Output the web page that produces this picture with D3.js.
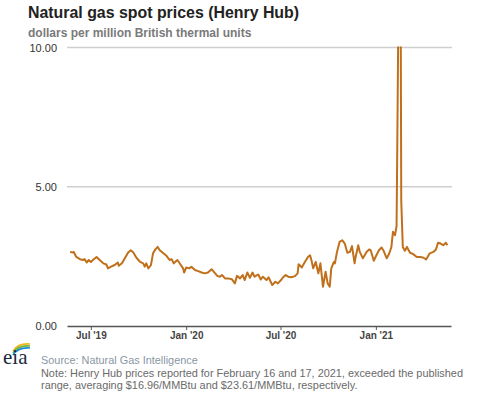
<!DOCTYPE html>
<html>
<head>
<meta charset="utf-8">
<script src="https://cdn.jsdelivr.net/npm/d3@7"></script>
<style>
  body { margin: 0; background: #fff; }
  svg { font-family: "Liberation Sans", Arial, sans-serif; }
</style>
</head>
<body>
<script>
// Henry Hub spot prices
const dates = [
  "2019-05-22","2019-05-28","2019-05-29","2019-06-03","2019-06-10","2019-06-16","2019-06-19","2019-06-23","2019-06-27",
  "2019-07-01","2019-07-05","2019-07-12","2019-07-18","2019-07-25","2019-07-31","2019-08-03","2019-08-09","2019-08-16",
  "2019-08-22","2019-08-24","2019-08-30","2019-09-06","2019-09-11","2019-09-16","2019-09-21","2019-09-27","2019-10-04",
  "2019-10-10","2019-10-13","2019-10-16","2019-10-20","2019-10-25","2019-10-29","2019-11-03","2019-11-07","2019-11-11",
  "2019-11-18","2019-11-24","2019-11-30","2019-12-04","2019-12-08","2019-12-15","2019-12-21","2019-12-26","2019-12-28",
  "2020-01-01","2020-01-07","2020-01-11","2020-01-18","2020-01-24","2020-01-31","2020-02-06","2020-02-12","2020-02-19",
  "2020-02-23","2020-03-01","2020-03-06","2020-03-10","2020-03-16","2020-03-22","2020-03-29","2020-04-04","2020-04-08",
  "2020-04-14","2020-04-19","2020-04-23","2020-04-28","2020-05-03","2020-05-08","2020-05-12","2020-05-19","2020-05-24",
  "2020-05-28","2020-06-04","2020-06-08","2020-06-15","2020-06-21","2020-06-26","2020-07-02","2020-07-06","2020-07-11",
  "2020-07-16","2020-07-22","2020-07-29","2020-08-03","2020-08-05","2020-08-11","2020-08-17","2020-08-23","2020-08-27",
  "2020-08-30","2020-09-02","2020-09-07","2020-09-12","2020-09-16","2020-09-21","2020-09-26","2020-09-30","2020-10-04",
  "2020-10-07","2020-10-12","2020-10-14","2020-10-18","2020-10-23","2020-10-28","2020-11-02","2020-11-07","2020-11-12",
  "2020-11-16","2020-11-21","2020-11-23","2020-11-28","2020-12-01","2020-12-07","2020-12-14","2020-12-19","2020-12-22",
  "2020-12-28","2021-01-02","2021-01-07","2021-01-12","2021-01-16","2021-01-22","2021-01-27","2021-01-31","2021-02-03",
  "2021-02-07","2021-02-10","2021-02-12","2021-02-16","2021-02-17","2021-02-18","2021-02-19","2021-02-22","2021-02-26",
  "2021-03-02","2021-03-08","2021-03-14","2021-03-21","2021-03-27","2021-04-02","2021-04-08","2021-04-15","2021-04-22",
  "2021-04-27","2021-05-01","2021-05-06","2021-05-11","2021-05-16","2021-05-19"
];
const prices = [
  2.66,2.64,2.66,2.48,2.40,2.37,2.40,2.28,2.37,
  2.30,2.37,2.48,2.37,2.25,2.21,2.07,2.13,2.19,
  2.28,2.16,2.25,2.48,2.64,2.72,2.64,2.45,2.30,
  2.25,2.13,2.25,2.07,2.19,2.61,2.76,2.84,2.72,
  2.61,2.52,2.37,2.40,2.25,2.37,2.21,2.07,1.92,
  2.10,2.07,2.13,2.01,1.97,1.92,1.89,1.92,2.04,
  1.95,1.80,1.77,1.83,1.71,1.71,1.68,1.53,1.80,
  1.71,1.83,1.65,1.92,1.73,1.92,1.77,1.85,1.67,
  1.77,1.65,1.75,1.47,1.59,1.53,1.65,1.75,1.83,
  1.77,1.75,1.79,1.89,2.22,2.10,2.30,2.48,2.54,
  2.34,2.07,2.30,1.89,2.25,1.41,1.95,1.53,1.41,
  2.07,2.30,2.25,2.66,3.02,3.08,2.96,2.63,2.66,
  2.87,2.25,2.48,2.90,2.66,2.43,2.66,2.75,2.72,
  2.34,2.54,2.72,2.82,2.70,2.43,2.61,2.84,3.38,
  3.26,3.60,7.90,16.96,23.61,11.00,4.50,2.84,2.70,
  2.84,2.63,2.58,2.48,2.48,2.46,2.39,2.61,2.66,
  2.75,2.99,2.96,2.90,2.99,2.90
];
const yTicks = [0, 5, 10];
const xTicks = ["2019-07-01", "2020-01-01", "2020-07-01", "2021-01-01"];
const xTickLabels = ["Jul '19", "Jan '20", "Jul '20", "Jan '21"];

const parse = d3.timeParse("%Y-%m-%d");
const data = dates.map((d, i) => ({ date: parse(d), value: prices[i] }));

const width = 477, height = 393;
const plot = { left: 67, right: 451, top: 47.5, bottom: 326 };

const svg = d3.select("body").append("svg")
  .attr("width", width)
  .attr("height", height);

const x = d3.scaleTime()
  .domain([parse("2019-05-16"), parse("2021-05-26")])
  .range([plot.left, plot.right]);
const y = d3.scaleLinear()
  .domain([0, 10])
  .range([plot.bottom, plot.top]);

// titles
svg.append("text")
  .attr("x", 28).attr("y", 18)
  .attr("font-size", 15.9).attr("font-weight", "bold").attr("fill", "#222")
  .text("Natural gas spot prices (Henry Hub)");
svg.append("text")
  .attr("x", 28).attr("y", 37)
  .attr("font-size", 12).attr("font-weight", "bold").attr("fill", "#7a7a7a")
  .text("dollars per million British thermal units");

// gridlines
svg.append("g")
  .selectAll("line")
  .data(yTicks.filter(t => t > 0))
  .enter().append("line")
  .attr("x1", plot.left).attr("x2", plot.right + 1)
  .attr("y1", d => y(d)).attr("y2", d => y(d))
  .attr("stroke", "#cfcfcf").attr("stroke-width", 1.5);

// y labels
svg.append("g")
  .selectAll("text")
  .data(yTicks)
  .enter().append("text")
  .attr("x", 57).attr("y", d => y(d) + 4)
  .attr("text-anchor", "end")
  .attr("font-size", 11).attr("fill", "#333")
  .text(d3.format(".2f"));

// x axis
const xAxis = d3.axisBottom(x)
  .tickValues(xTicks.map(parse))
  .tickSize(4)
  .tickSizeOuter(0)
  .tickFormat((d, i) => xTickLabels[i]);
const gx = svg.append("g")
  .attr("transform", `translate(0,${plot.bottom})`)
  .call(xAxis);
gx.select(".domain").attr("stroke", "#555").attr("stroke-width", 1.5);
gx.selectAll(".tick line").attr("stroke", "#555");
gx.selectAll(".tick text")
  .attr("font-family", "Liberation Sans, Arial, sans-serif")
  .attr("font-size", 10).attr("font-weight", "bold").attr("fill", "#444")
  .attr("dy", "0.55em");

// price line, clipped at top of the range
svg.append("clipPath").attr("id", "clip")
  .append("rect")
  .attr("x", plot.left).attr("y", plot.top - 1)
  .attr("width", plot.right - plot.left).attr("height", plot.bottom - plot.top + 1);

const line = d3.line()
  .x(d => x(d.date))
  .y(d => y(d.value));

svg.append("path")
  .datum(data)
  .attr("clip-path", "url(#clip)")
  .attr("d", line)
  .attr("fill", "none")
  .attr("stroke", "#c0701a")
  .attr("stroke-width", 2)
  .attr("stroke-linejoin", "round");

// eia logo
const logo = svg.append("g").attr("transform", "translate(3,341)");
const arc = (dy, c) => logo.append("path")
  .attr("d", `M10,${14 + dy} Q15,${6 + dy} 27,${7 + dy}`)
  .attr("fill", "none").attr("stroke", c).attr("stroke-width", 1.6);
arc(-4, "#f2b51c");
arc(-2, "#6cb33f");
arc(0, "#1c8ccf");
logo.append("text")
  .attr("x", 0).attr("y", 23)
  .attr("font-family", "Liberation Serif, DejaVu Serif, serif")
  .attr("font-size", 21).attr("fill", "#1a2a40")
  .text("eia");

// source & note
svg.append("text")
  .attr("x", 41).attr("y", 364)
  .attr("font-size", 10.9).attr("fill", "#8a96a3")
  .text("Source: Natural Gas Intelligence");
const note = svg.append("text")
  .attr("font-size", 10.9).attr("fill", "#6a6a6a");
note.append("tspan").attr("x", 41).attr("y", 377)
  .text("Note: Henry Hub prices reported for February 16 and 17, 2021, exceeded the published");
note.append("tspan").attr("x", 41).attr("y", 389)
  .text("range, averaging $16.96/MMBtu and $23.61/MMBtu, respectively.");
</script>
</body>
</html>
